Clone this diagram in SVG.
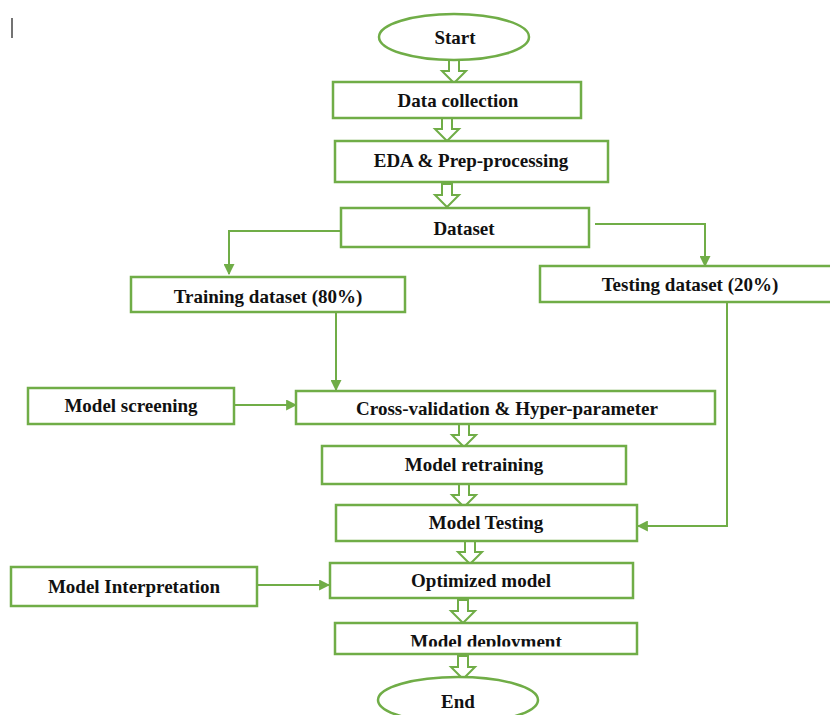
<svg xmlns="http://www.w3.org/2000/svg" width="830" height="715" viewBox="0 0 830 715">
  <style>
    .box { fill: #fff; stroke: #70AD47; stroke-width: 2.5; }
    .lbl { font-family: "Liberation Serif", "Times New Roman", serif; font-weight: bold; font-size: 19px; fill: #111; text-anchor: middle; }
    .conn { fill: none; stroke: #70AD47; stroke-width: 2; }
    .flow { fill: #fff; stroke: #70AD47; stroke-width: 2; stroke-linejoin: miter; }
  </style>
  <defs>
    <marker id="tri" viewBox="0 0 10 10" refX="9" refY="5" markerWidth="11" markerHeight="11" orient="auto" markerUnits="userSpaceOnUse">
      <path d="M0,0 L10,5 L0,10 Z" fill="#70AD47"/>
    </marker>
    <!-- hollow block arrow, 23 px long, pointing down from its origin -->
    <path id="blk" class="flow" d="M-5,0 L5,0 L5,11 L12,11 L0,23 L-12,11 L-5,11 Z"/>
    <clipPath id="deployClip">
      <rect x="336" y="624" width="300" height="22.5"/>
    </clipPath>
  </defs>
  <rect width="830" height="715" fill="#fff"/>

  <!-- text cursor mark -->
  <line x1="12" y1="18" x2="12" y2="38" stroke="#444" stroke-width="1.5"/>

  <g id="connectors">
    <use href="#blk" x="454" y="60"/>
    <use href="#blk" x="447" y="118"/>
    <use href="#blk" x="447" y="184"/>
    <use href="#blk" x="464" y="424"/>
    <use href="#blk" x="464" y="484"/>
    <use href="#blk" x="470" y="541"/>
    <use href="#blk" x="463" y="600"/>
    <use href="#blk" x="463" y="656"/>
    <path class="conn" d="M341,231 H229 V274" marker-end="url(#tri)"/>
    <path class="conn" d="M595,224 H705 V266" marker-end="url(#tri)"/>
    <path class="conn" d="M336,312 V390" marker-end="url(#tri)"/>
    <path class="conn" d="M234,405 H296" marker-end="url(#tri)"/>
    <path class="conn" d="M727,302 V526 H638" marker-end="url(#tri)"/>
    <path class="conn" d="M258,585 H329" marker-end="url(#tri)"/>
  </g>

  <g id="start">
    <ellipse class="box" cx="454" cy="37" rx="75" ry="23"/>
    <text class="lbl" x="455" y="44">Start</text>
  </g>
  <g id="data-collection">
    <rect class="box" x="333" y="82" width="248" height="36"/>
    <text class="lbl" x="458" y="107">Data collection</text>
  </g>
  <g id="eda">
    <rect class="box" x="335" y="141" width="273" height="41"/>
    <text class="lbl" x="471" y="167">EDA &amp; Prep-processing</text>
  </g>
  <g id="dataset">
    <rect class="box" x="341" y="208" width="248" height="39"/>
    <text class="lbl" x="464" y="235">Dataset</text>
  </g>
  <g id="training">
    <rect class="box" x="131" y="277" width="274" height="35"/>
    <text class="lbl" x="268" y="303">Training dataset (80%)</text>
  </g>
  <g id="testing">
    <rect class="box" x="540" y="266" width="292" height="36"/>
    <text class="lbl" x="690" y="291">Testing dataset (20%)</text>
  </g>
  <g id="screening">
    <rect class="box" x="28" y="388" width="206" height="36"/>
    <text class="lbl" x="131" y="412">Model screening</text>
  </g>
  <g id="cross-validation">
    <rect class="box" x="296" y="391" width="419" height="33"/>
    <text class="lbl" x="507" y="415">Cross-validation &amp; Hyper-parameter</text>
  </g>
  <g id="retraining">
    <rect class="box" x="322" y="446" width="304" height="38"/>
    <text class="lbl" x="474" y="471">Model retraining</text>
  </g>
  <g id="model-testing">
    <rect class="box" x="336" y="505" width="301" height="36"/>
    <text class="lbl" x="486" y="529">Model Testing</text>
  </g>
  <g id="interpretation">
    <rect class="box" x="11" y="567" width="246" height="39"/>
    <text class="lbl" x="134" y="593">Model Interpretation</text>
  </g>
  <g id="optimized">
    <rect class="box" x="330" y="563" width="303" height="35"/>
    <text class="lbl" x="481" y="587">Optimized model</text>
  </g>
  <g id="deployment">
    <rect class="box" x="335" y="623" width="302" height="31"/>
    <text class="lbl" x="486" y="648" clip-path="url(#deployClip)">Model deployment</text>
  </g>
  <g id="end">
    <ellipse class="box" cx="458" cy="700" rx="80" ry="23"/>
    <text class="lbl" x="458" y="708">End</text>
  </g>
</svg>
